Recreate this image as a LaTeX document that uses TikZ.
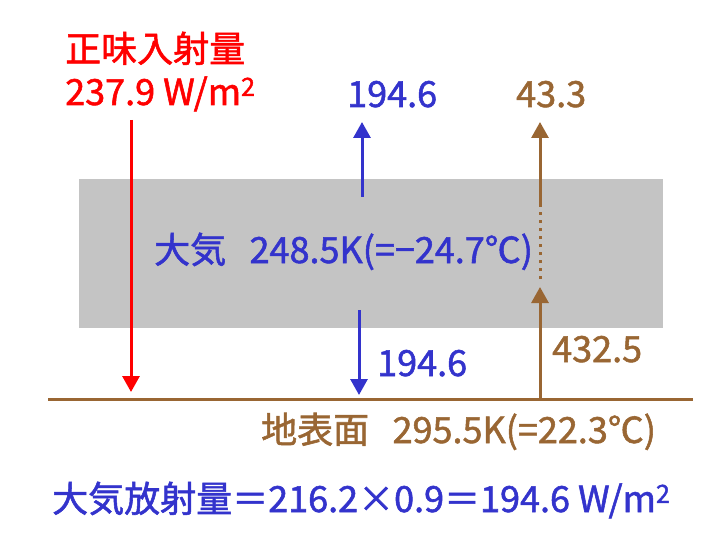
\documentclass[tikz,border=0pt]{standalone}
\usepackage{fontspec}
\setmainfont[FakeBold=1.5]{Noto Sans CJK JP}
\usetikzlibrary{arrows.meta,positioning}
\definecolor{flxred}{RGB}{255,0,0}
\definecolor{flxblue}{RGB}{51,51,204}
\definecolor{flxbrown}{RGB}{153,102,51}
\definecolor{atmgray}{RGB}{196,196,196}

\begin{document}
\begin{tikzpicture}[x=1pt,y=-1pt,
  lbl/.style={inner sep=0pt,anchor=base west,font=\fontsize{36}{42}\selectfont},
  flux/.style={line width=3pt,-{Triangle[length=16pt,width=17pt]}}]
  \useasboundingbox (0,0) rectangle (720,540);
  \fill[atmgray] (79,179) rectangle (663,328);
  \coordinate (gL) at (48,399);
  \coordinate (gR) at (693,399);
  \draw[flxbrown,line width=3pt] (gL)--(gR);
  \coordinate (inTop) at (131,120);
  \coordinate (inBot) at (131,392);
  \draw[flux,flxred] (inTop)--(inBot);
  \coordinate (upA) at (362,197);
  \coordinate (upB) at (362,122);
  \draw[flux,flxblue] (upA)--(upB);
  \coordinate (dnA) at (359,310);
  \coordinate (dnB) at (359,395);
  \draw[flux,flxblue] (dnA)--(dnB);
  \coordinate (sfA) at (540,400);
  \coordinate (sfB) at (540,287);
  \coordinate (sfC) at (540,279);
  \coordinate (sfD) at (540,209);
  \coordinate (sfE) at (540,207);
  \coordinate (sfF) at (540,122);
  \draw[flux,flxbrown] (sfA)--(sfB);
  \draw[flxbrown,line width=3pt,dash pattern=on 3pt off 5pt] (sfC)--(sfD);
  \draw[flux,flxbrown] (sfE)--(sfF);
  \node[lbl,flxred] (incName) at (65,62) {正味入射量};
  \node[lbl,flxred] (incVal) at (65,105) {237.9 W/m\textsuperscript{2}};
  \node[lbl,flxblue] (upVal) at (347,107) {194.6};
  \node[lbl,flxbrown] (toaVal) at (516,107) {43.3};
  \node[lbl,flxblue] (atm) at (154,263) {大気\hspace{0.65em}248.5K(=−24.7℃)};
  \node[lbl,flxblue] (dnVal) at (377,376) {194.6};
  \node[lbl,flxbrown] (sfVal) at (552,362) {432.5};
  \node[lbl,flxbrown] (sfc) at (261,443) {地表面\hspace{0.65em}295.5K(=22.3℃)};
  \node[lbl,flxblue] (emis) at (52,512) {大気放射量＝216.2\makebox[1em]{×}0.9＝194.6 W/m\textsuperscript{2}};
\end{tikzpicture}
\end{document}
